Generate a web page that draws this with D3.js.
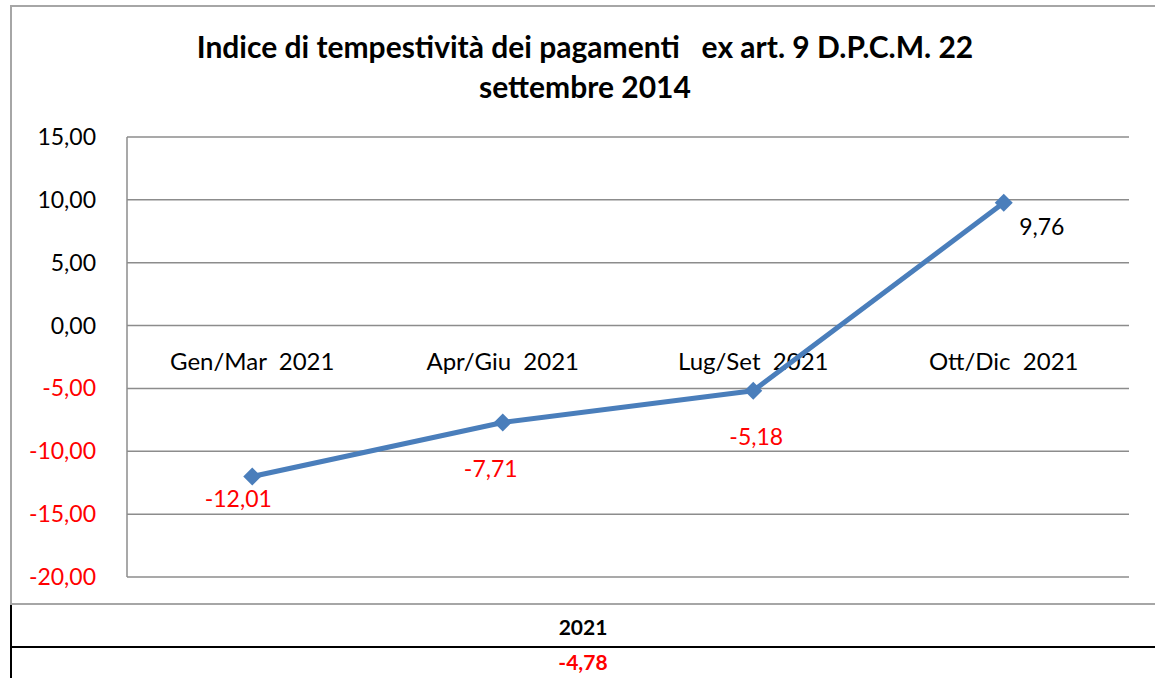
<!DOCTYPE html>
<html>
<head>
<meta charset="utf-8">
<script src="https://cdn.jsdelivr.net/npm/d3@7"></script>
<style>
  body { margin: 0; background: #fff; }
  svg { display: block; font-family: Lato, "Open Sans", sans-serif; }
</style>
</head>
<body>
<svg id="chart" width="1155" height="678"></svg>
<script>
// data
const categories = ['Gen/Mar  2021', 'Apr/Giu  2021', 'Lug/Set  2021', 'Ott/Dic  2021'];
const values = [-12.01, -7.71, -5.18, 9.76];
const yTicks = [15, 10, 5, 0, -5, -10, -15, -20];
const yearLabel = '2021';
const yearValue = -4.78;
const titleLines = ['Indice di tempestività dei pagamenti   ex art. 9 D.P.C.M. 22', 'settembre 2014'];

// label offsets relative to the point (as placed in the original)
const labelOffsets = [[-14, 22], [-12, 46], [3, 46], [38, 24]];

// Italian style numbers: comma decimal, plain hyphen for minus
const locale = d3.formatLocale({ decimal: ',', thousands: '.', grouping: [3], currency: ['', '€'], minus: '-' });
const fmt = locale.format('.2f');

const svg = d3.select('#chart');
const plot = { left: 127, right: 1129, top: 137, bottom: 577 };

const x = d3.scaleBand().domain(categories).range([plot.left, plot.right]);
const y = d3.scaleLinear().domain([-20, 15]).range([plot.bottom, plot.top]);

// outer chart frame
svg.append('rect')
    .attr('x', 11).attr('y', 6)
    .attr('width', 1160).attr('height', 598)
    .attr('fill', '#fff')
    .attr('stroke', '#a6a6a6')
    .attr('stroke-width', 2);

// title
const title = svg.append('text')
    .attr('x', 585)
    .attr('text-anchor', 'middle')
    .style('font-size', '30px')
    .style('font-weight', 'bold')
    .style('white-space', 'pre');
titleLines.forEach((t, i) => {
    title.append('tspan').attr('x', 585).attr('y', 58 + i * 40).text(t);
});

// gridlines
svg.append('g')
    .selectAll('line')
    .data(yTicks)
    .join('line')
    .attr('x1', plot.left).attr('x2', plot.right)
    .attr('y1', d => y(d)).attr('y2', d => y(d))
    .attr('stroke', '#8c8c8c')
    .attr('stroke-width', 1.5);

// left axis line
svg.append('line')
    .attr('x1', plot.left).attr('x2', plot.left)
    .attr('y1', plot.top).attr('y2', plot.bottom)
    .attr('stroke', '#8c8c8c')
    .attr('stroke-width', 1.5);

// y tick labels
svg.append('g')
    .selectAll('text')
    .data(yTicks)
    .join('text')
    .attr('x', 96)
    .attr('y', d => y(d))
    .attr('dy', '0.35em')
    .attr('text-anchor', 'end')
    .style('font-size', '23px')
    .attr('fill', d => d < 0 ? '#ff0000' : '#000')
    .text(d => fmt(d));

// category labels
svg.append('g')
    .selectAll('text')
    .data(categories)
    .join('text')
    .attr('x', d => x(d) + x.bandwidth() / 2)
    .attr('y', 362)
    .attr('dy', '0.35em')
    .attr('text-anchor', 'middle')
    .style('font-size', '24px')
    .style('white-space', 'pre')
    .text(d => d);

const pts = categories.map((c, i) => ({ c, v: values[i], i }));

// line
svg.append('path')
    .datum(pts)
    .attr('fill', 'none')
    .attr('stroke', '#4a7ebb')
    .attr('stroke-width', 5)
    .attr('stroke-linejoin', 'round')
    .attr('d', d3.line().x(d => x(d.c) + x.bandwidth() / 2).y(d => y(d.v)));

// diamond markers
svg.append('g')
    .selectAll('path')
    .data(pts)
    .join('path')
    .attr('transform', d => `translate(${x(d.c) + x.bandwidth() / 2},${y(d.v)})`)
    .attr('d', 'M0,-9L9,0L0,9L-9,0Z')
    .attr('fill', '#4a7ebb');

// data labels
svg.append('g')
    .selectAll('text')
    .data(pts)
    .join('text')
    .attr('x', d => x(d.c) + x.bandwidth() / 2 + labelOffsets[d.i][0])
    .attr('y', d => y(d.v) + labelOffsets[d.i][1])
    .attr('dy', '0.35em')
    .attr('text-anchor', 'middle')
    .style('font-size', '23px')
    .attr('fill', d => d.v < 0 ? '#ff0000' : '#000')
    .text(d => fmt(d.v));

// summary table below the chart
svg.append('line')
    .attr('x1', 11).attr('x2', 11)
    .attr('y1', 605).attr('y2', 678)
    .attr('stroke', '#000').attr('stroke-width', 2);
svg.append('line')
    .attr('x1', 11).attr('x2', 1155)
    .attr('y1', 647).attr('y2', 647)
    .attr('stroke', '#000').attr('stroke-width', 2);
svg.append('text')
    .attr('x', 583).attr('y', 628)
    .attr('dy', '0.35em')
    .attr('text-anchor', 'middle')
    .style('font-size', '21px')
    .style('font-weight', 'bold')
    .text(yearLabel);
svg.append('text')
    .attr('x', 583).attr('y', 663)
    .attr('dy', '0.35em')
    .attr('text-anchor', 'middle')
    .style('font-size', '21px')
    .style('font-weight', 'bold')
    .attr('fill', '#ff0000')
    .text(fmt(yearValue));
</script>
</body>
</html>
